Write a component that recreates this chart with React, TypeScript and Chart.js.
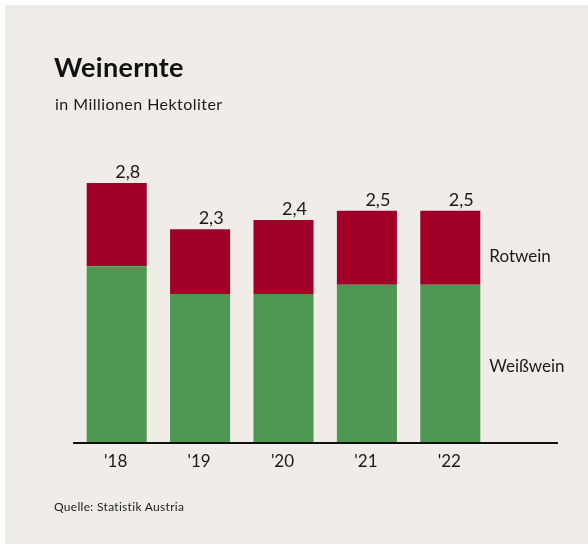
import React, { useEffect, useRef } from "react";
import { Chart, registerables } from "chart.js";

Chart.register(...registerables);

const categories = ["'18", "'19", "'20", "'21", "'22"];
const weisswein = [1.9, 1.6, 1.6, 1.7, 1.7];
const rotwein = [0.9, 0.7, 0.8, 0.8, 0.8];
const totals = ["2,8", "2,3", "2,4", "2,5", "2,5"];
const seriesNames = ["Weißwein", "Rotwein"];

const FONT = "Lato, 'Open Sans', sans-serif";
const BG = "#f0ede9";
const RED = "#a00028";
const GREEN = "#4d9753";

const decorPlugin = {
  id: "decor",
  beforeDraw(chart: any) {
    const ctx = chart.ctx;
    ctx.save();
    ctx.fillStyle = "#ffffff";
    ctx.fillRect(0, 0, chart.width, chart.height);
    ctx.fillStyle = BG;
    ctx.fillRect(5, 5, chart.width - 5, chart.height - 6);
    ctx.restore();
  },
  afterDatasetsDraw(chart: any) {
    const ctx = chart.ctx;
    const x = chart.scales.x;
    const y = chart.scales.y;
    const base = y.getPixelForValue(0);
    ctx.save();
    // axis line
    ctx.fillStyle = "#111111";
    ctx.fillRect(73, base, 485, 2);
    ctx.fillStyle = "#1a1a1a";
    // value labels
    ctx.font = `18px ${FONT}`;
    ctx.textAlign = "right";
    ctx.textBaseline = "alphabetic";
    categories.forEach((c, i) => {
      const cx = x.getPixelForValue(i);
      const top = y.getPixelForValue(weisswein[i] + rotwein[i]);
      ctx.fillText(totals[i], cx + 23.5, top - 5);
    });
    // category labels
    ctx.font = `17px ${FONT}`;
    ctx.textAlign = "center";
    categories.forEach((c, i) => {
      const cx = x.getPixelForValue(i);
      ctx.fillText(c, cx - 1, base + 25);
    });
    // series labels at the right of last bar
    const last = categories.length - 1;
    const meta = chart.getDatasetMeta(0).data[last];
    const right = meta.x + meta.width / 2;
    const wMid = (y.getPixelForValue(0) + y.getPixelForValue(weisswein[last])) / 2;
    const rMid =
      (y.getPixelForValue(weisswein[last]) + y.getPixelForValue(weisswein[last] + rotwein[last])) / 2;
    ctx.textAlign = "left";
    ctx.textBaseline = "middle";
    ctx.fillText(seriesNames[1], right + 9, rMid + 9);
    ctx.fillText(seriesNames[0], right + 9, wMid + 3);
    ctx.restore();
  },
};

export default function App() {
  const ref = useRef<HTMLCanvasElement | null>(null);
  useEffect(() => {
    document.body.style.margin = "0";
    if (!ref.current) return;
    const chart = new Chart(ref.current, {
      type: "bar",
      data: {
        labels: categories,
        datasets: [
          {
            label: seriesNames[0],
            data: weisswein,
            backgroundColor: GREEN,
            borderWidth: 0,
            categoryPercentage: 1,
            barPercentage: 0.72,
          },
          {
            label: seriesNames[1],
            data: rotwein,
            backgroundColor: RED,
            borderWidth: 0,
            categoryPercentage: 1,
            barPercentage: 0.72,
          },
        ],
      },
      options: {
        responsive: false,
        animation: false,
        layout: { padding: { left: 75, right: 96, top: 164.5, bottom: 103 } },
        plugins: {
          legend: { display: false },
          tooltip: { enabled: false },
          title: { display: false },
        },
        scales: {
          x: { stacked: true, display: false, grid: { display: false } },
          y: { stacked: true, display: false, min: 0, max: 3, grid: { display: false } },
        },
      },
      plugins: [decorPlugin],
    });
    return () => chart.destroy();
  }, []);

  return (
    <div style={{ position: "absolute", left: 0, top: 0, width: 588, height: 545 }}>
      <canvas ref={ref} width={588} height={545} style={{ display: "block" }} />
      <div
        style={{
          position: "absolute",
          left: 54,
          top: 53,
          fontFamily: FONT,
          fontWeight: 700,
          fontSize: 27,
          lineHeight: "27px",
          letterSpacing: "0.3px",
          color: "#111",
          whiteSpace: "nowrap",
        }}
      >
        Weinernte
      </div>
      <div
        style={{
          position: "absolute",
          left: 55,
          top: 96,
          fontFamily: FONT,
          fontSize: 16,
          lineHeight: "16px",
          letterSpacing: "0.45px",
          color: "#1a1a1a",
          whiteSpace: "nowrap",
        }}
      >
        in Millionen Hektoliter
      </div>
      <div
        style={{
          position: "absolute",
          left: 54,
          top: 501,
          fontFamily: FONT,
          fontSize: 12,
          lineHeight: "12px",
          letterSpacing: "0.3px",
          color: "#1a1a1a",
          whiteSpace: "nowrap",
        }}
      >
        Quelle: Statistik Austria
      </div>
    </div>
  );
}
